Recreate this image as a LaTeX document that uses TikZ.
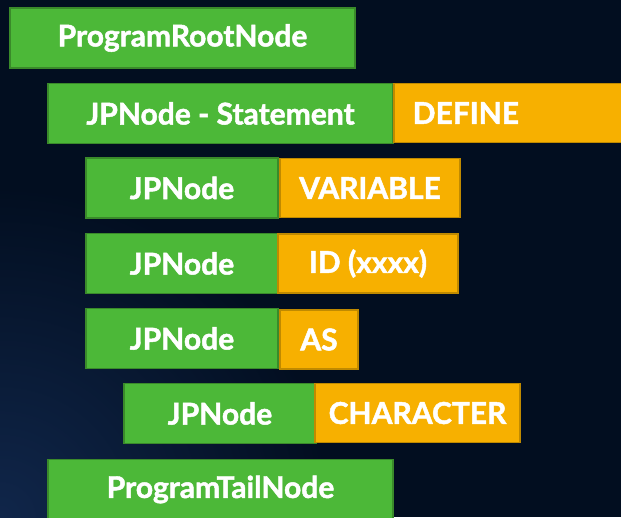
\documentclass[tikz,border=0pt]{standalone}
\usepackage{fontspec}
\newfontfamily\boxfont{Lato}[BoldFeatures={FakeBold=1.6}]
\definecolor{bgdark}{HTML}{020E20}
\definecolor{bglight}{HTML}{10264A}
\definecolor{gfill}{HTML}{4CB838}
\definecolor{gline}{HTML}{3A8A2A}
\definecolor{ofill}{HTML}{F7B000}
\definecolor{oline}{HTML}{C08A00}
\tikzset{
  gbox/.style={draw=gline, fill=gfill, line width=1.5pt, text=white,
    font=\boxfont\bfseries\fontsize{30}{34}\selectfont, inner sep=0pt,
    minimum height=60pt},
  obox/.style={gbox, draw=oline, fill=ofill, minimum height=59pt}
}
\begin{document}
\begin{tikzpicture}[x=1pt,y=-1pt]
\useasboundingbox (0,0) rectangle (621,517);
\clip (0,0) rectangle (621,517);
\fill[bgdark] (0,0) rectangle (621,517);
\shade[inner color=bglight, outer color=bgdark] (0,517) circle (330);
% statement tree
\node[gbox, minimum width=345pt] (root) at (182.5,38) {ProgramRootNode};
\node[gbox, minimum width=345pt] (stmt) at (220.5,113.5) {JPNode - Statement};
\node[obox, anchor=west, text width=200pt, align=left, inner xsep=19pt] (define) at (393,113) {DEFINE};
\node[gbox, minimum width=192pt] (n1) at (182,188) {JPNode};
\node[obox, minimum width=180pt] (variable) at (370,188) {VARIABLE};
\node[gbox, minimum width=192pt] (n2) at (182,263.5) {JPNode};
\node[obox, minimum width=180pt] (id) at (368,263.5) {ID (xxxx)};
\node[gbox, minimum width=192pt] (n3) at (182,338.5) {JPNode};
\node[obox, minimum width=78pt] (as) at (319,339.5) {AS};
\node[gbox, minimum width=192pt] (n4) at (220,413.5) {JPNode};
\node[obox, minimum width=205pt] (character) at (417.5,413) {CHARACTER};
% tail
\node[gbox, minimum width=345pt] (tail) at (220.5,489.5) {ProgramTailNode};
\end{tikzpicture}
\end{document}
